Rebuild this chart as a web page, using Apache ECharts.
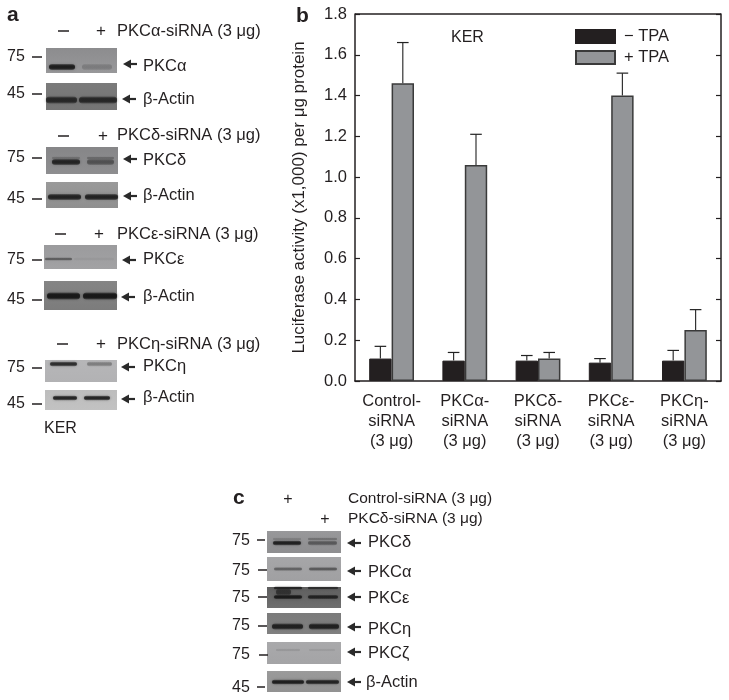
<!DOCTYPE html>
<html><head><meta charset="utf-8">
<style>html,body{margin:0;padding:0;background:#fff}#c{width:729px;height:700px}</style>
<script src="https://cdn.jsdelivr.net/npm/echarts@6/dist/echarts.min.js"></script>
</head><body><div id="c"></div>
<script>
// ---------- chart b data ----------
var categories = ['Control-\nsiRNA\n(3 μg)','PKCα-\nsiRNA\n(3 μg)','PKCδ-\nsiRNA\n(3 μg)','PKCε-\nsiRNA\n(3 μg)','PKCη-\nsiRNA\n(3 μg)'];
var minusTPA = [0.11,0.10,0.10,0.09,0.10];
var plusTPA = [1.46,1.06,0.11,1.40,0.25];
var minusTop = [0.17,0.14,0.125,0.11,0.15];
var plusTop = [1.66,1.21,0.14,1.51,0.35];
// ---------- blot labels ----------
var headersA = ['PKCα-siRNA (3 μg)','PKCδ-siRNA (3 μg)','PKCε-siRNA (3 μg)','PKCη-siRNA (3 μg)'];
var labelsA = ['PKCα','β-Actin','PKCδ','β-Actin','PKCε','β-Actin','PKCη','β-Actin'];
var labelsC = ['PKCδ','PKCα','PKCε','PKCη','PKCζ','β-Actin'];
var markersA = ['75','45','75','45','75','45','75','45'];
var markersC = ['75','75','75','75','75','45'];
// band darkness per lane (0-1), main band
var bandsA = [[0.85,0.18],[0.72,0.72],[0.78,0.42],[0.8,0.8],[0.42,0.05],[0.9,0.9],[0.75,0.3],[0.82,0.82]];
var bandsC = [[0.82,0.4],[0.4,0.45],[0.85,0.75],[0.8,0.8],[0.1,0.08],[0.85,0.8]];

// ---------- layout (not data) ----------
var font = '"Liberation Sans", Arial, sans-serif';
var G = [];
function text(s,x,y,size,opt){opt=opt||{};G.push({type:'text',silent:true,style:{text:s,x:x,y:y,font:(opt.bold?'bold ':'')+size+'px '+font,fill:opt.fill||'#231f20',textAlign:opt.align||'left',textVerticalAlign:'middle'}});}
function dash(x1,x2,y){G.push({type:'line',silent:true,shape:{x1:x1,y1:y,x2:x2,y2:y},style:{stroke:'#231f20',lineWidth:1.5}});}
function arrow(x1,x2,y){
  G.push({type:'line',silent:true,shape:{x1:x1+4,y1:y,x2:x2,y2:y},style:{stroke:'#2a2a2a',lineWidth:2.2}});
  G.push({type:'polygon',silent:true,shape:{points:[[x1,y],[x1+8,y-4.5],[x1+8,y+4.5]]},style:{fill:'#2a2a2a'}});
}
function band(x,y,w,h,a,dark){
  var c=dark||'20,20,20';
  h=h+1;
  G.push({type:'rect',silent:true,shape:{x:x,y:y-h/2,width:w,height:h,r:h/2},
    style:{fill:{type:'linear',x:0,y:0,x2:0,y2:1,colorStops:[{offset:0,color:'rgba('+c+','+a*0.45+')'},{offset:0.3,color:'rgba('+c+','+a+')'},{offset:0.7,color:'rgba('+c+','+a+')'},{offset:1,color:'rgba('+c+','+a*0.45+')'}]},shadowBlur:3,shadowColor:'rgba('+c+','+a*0.7+')'}});
}
function panel(x,y,w,h,bg,bg2){
  G.push({type:'rect',silent:true,shape:{x:x,y:y,width:w,height:h},style:{fill:{type:'linear',x:0,y:0,x2:0,y2:1,colorStops:[{offset:0,color:bg},{offset:1,color:bg2||bg}]}}});
}
// panel a geometry: x,y,w,h,bg,bg2, bandY,bandH, lane1 x,w, lane2 x,w, markerY, arrowY, labelY, arrowX, labelX
var geoA = [
 [46,48,71,25,'#8c8c8e','#98989a', 67,5, 49,26, 82,30, 57,64,66, 123,143],
 [46,83,71,27,'#7b7b7b','#747474',100,6, 46,31, 79,38, 94,99,99, 122,143],
 [46,147,72,27,'#868688','#8e8e90',162,5, 52,28, 87,27, 158,159,160, 123,143],
 [46,182,72,26,'#9a9a9a','#8f8f8f',197,5, 48,33, 85,33, 199,196,195, 123,143],
 [44,245,73,24,'#9b9b9d','#a2a2a4',259,2, 45,27, 74,40, 260,260,259, 122,143],
 [44,281,73,29,'#858585','#7c7c7c',296,6, 47,33, 83,34, 300,297,296, 121,143],
 [45,360,72,22,'#b6b6b8','#b2b2b4',364,3.5, 50,27, 87,25, 368,367,366, 121,143],
 [45,390,72,20,'#bdbdbd','#c2c2c2',398,3.5, 53,24, 84,26, 404,399,397, 121,143]
];
var headY = [[31,58,69,101,31],[136,58,69,103,135],[234,55,66,99,234],[344,57,68,101,344]];
text('a',7,15,21,{bold:true});
headersA.forEach(function(s,i){var h=headY[i];dash(h[1],h[2],h[0]);text('+',h[3],h[0],17,{align:'center'});text(s,117,h[4],16.5);});
geoA.forEach(function(g,i){
  panel(g[0],g[1],g[2],g[3],g[4],g[5]);
  band(g[8],g[6],g[9],g[7],bandsA[i][0]);
  band(g[10],g[6],g[11],g[7],bandsA[i][1]);
  if(i===2){band(g[8],g[6]-4,g[9],1.5,0.2);band(g[10],g[6]-4,g[11],1.5,0.25);}
  text(markersA[i],7,g[12],16);dash(32,42,g[12]);
  arrow(g[15],g[15]+14,g[13]);
  text(labelsA[i],g[16],g[14],16.5);
});
text('KER',44,429,16);
text('b',296,16,21,{bold:true});
// panel c
var geoC = [
 [267,531,74,22,'#98989a','#8e8e90',543,3.5,273,28,308,29,541,540,543,542,368,257,265],
 [267,557,74,24,'#a6a6a8','#a0a0a2',569,2.5,274,28,309,28,571,570,571,572,368,258,267],
 [267,587,74,21,'#5e5e5e','#6f6f6f',597,3,274,28,308,30,598,597,597,598,368,258,267],
 [267,613,74,21,'#7b7b7b','#808080',626.5,5,272,31,309,30,626,626,627,629,368,258,267],
 [267,642,74,22,'#a9a9ab','#a4a4a6',650,1.5,276,24,309,26,655,655,652,653,368,259,268],
 [267,671,74,21,'#9a9a9a','#929292',682,3.5,272,32,306,33,688,687,682,682,366,257,265]
];
text('c',233,498,21,{bold:true});
text('+',288,500,16,{align:'center'});
text('+',325,520,16,{align:'center'});
text('Control-siRNA (3 μg)',348,499,15.5);
text('PKCδ-siRNA (3 μg)',348,519,15.5);
geoC.forEach(function(g,i){
  panel(g[0],g[1],g[2],g[3],g[4],g[5]);
  if(i===2){band(g[8]+2,592,15,6,0.55);}
  band(g[8],g[6],g[9],g[7],bandsC[i][0]);
  band(g[10],g[6],g[11],g[7],bandsC[i][1]);
  if(i===0){band(g[10],g[6]-4,g[11],1.5,0.25);band(g[8],g[6]-4,g[9],1.5,0.15);}
  if(i===2){band(g[8],588,g[9],2,0.7);band(g[10],588,g[11],1.5,0.6);}
  text(markersC[i],232,g[12],16);dash(g[17],g[18],g[13]);
  arrow(347,361,g[14]);
  text(labelsC[i],g[16],g[15],16.5);
});
text('KER',451,38,16);

// ---------- chart b ----------
var barW = 22.4;
function errItem(sign){
  return function(params, api){
    var i = api.value(0), base = api.coord([i, api.value(1)]), top = api.coord([i, api.value(2)]);
    var x = base[0] + sign*barW/2;
    return {type:'group',silent:true,children:[
      {type:'line',shape:{x1:x,y1:base[1],x2:x,y2:top[1]},style:{stroke:'#333',lineWidth:1.2}},
      {type:'line',shape:{x1:x-5.8,y1:top[1],x2:x+5.8,y2:top[1]},style:{stroke:'#222',lineWidth:1.2}}
    ]};
  };
}
var chart = echarts.init(document.getElementById('c'),null,{renderer:'canvas'});
chart.setOption({
  animation:false,
  backgroundColor:'#fff',
  textStyle:{fontFamily:font},
  grid:{left:355,top:14,width:366,height:367,show:false},
  legend:{left:575,top:27,orient:'vertical',icon:'rect',data:['− TPA','+ TPA'],itemWidth:39,itemHeight:13,itemGap:2,selectedMode:false,
    textStyle:{fontFamily:font,fontSize:16.5,lineHeight:19,color:'#231f20',padding:[0,0,0,4]},padding:0},
  xAxis:{type:'category',data:categories,position:'bottom',
    axisLine:{lineStyle:{color:'#231f20',width:1.5}},axisTick:{show:false},
    axisLabel:{color:'#231f20',fontSize:16.5,fontFamily:font,lineHeight:20,margin:10,interval:0}},
  yAxis:[
    {type:'value',min:0,max:1.8,interval:0.2,position:'left',
     axisLine:{show:true,onZero:false,lineStyle:{color:'#231f20',width:1.5}},
     axisTick:{show:true,inside:true,length:5,lineStyle:{color:'#231f20',width:1.2}},splitLine:{show:false},
     axisLabel:{color:'#231f20',fontSize:16.5,fontFamily:font,margin:8,formatter:function(v){return v.toFixed(1);}},
     name:'Luciferase activity (x1,000) per μg protein',nameLocation:'middle',nameGap:47,nameRotate:90,
     nameTextStyle:{color:'#231f20',fontSize:17,fontFamily:font}},
    {type:'value',min:0,max:1.8,interval:0.2,position:'right',
     axisLine:{show:true,lineStyle:{color:'#231f20',width:1.5}},
     axisTick:{show:true,inside:true,length:5,lineStyle:{color:'#231f20',width:1.2}},
     splitLine:{show:false},axisLabel:{show:false}}
  ],
  graphic:G.concat([{type:'line',silent:true,z:10,shape:{x1:355,y1:14,x2:721,y2:14},style:{stroke:'#231f20',lineWidth:1.5}}]),
  series:[
    {name:'− TPA',type:'bar',data:minusTPA,barWidth:barW,barGap:'0%',itemStyle:{color:'#231f20',borderColor:'#231f20',borderWidth:1}},
    {name:'+ TPA',type:'bar',data:plusTPA,barWidth:barW,barGap:'0%',itemStyle:{color:'#939598',borderColor:'#3a3a3a',borderWidth:1.5}},
    {name:'err-',type:'custom',renderItem:errItem(-1),data:minusTPA.map(function(v,i){return [i,v,minusTop[i]];}),encode:{x:0,y:[1,2]},z:3},
    {name:'err+',type:'custom',renderItem:errItem(1),data:plusTPA.map(function(v,i){return [i,v,plusTop[i]];}),encode:{x:0,y:[1,2]},z:3}
  ]
});
</script></body></html>
